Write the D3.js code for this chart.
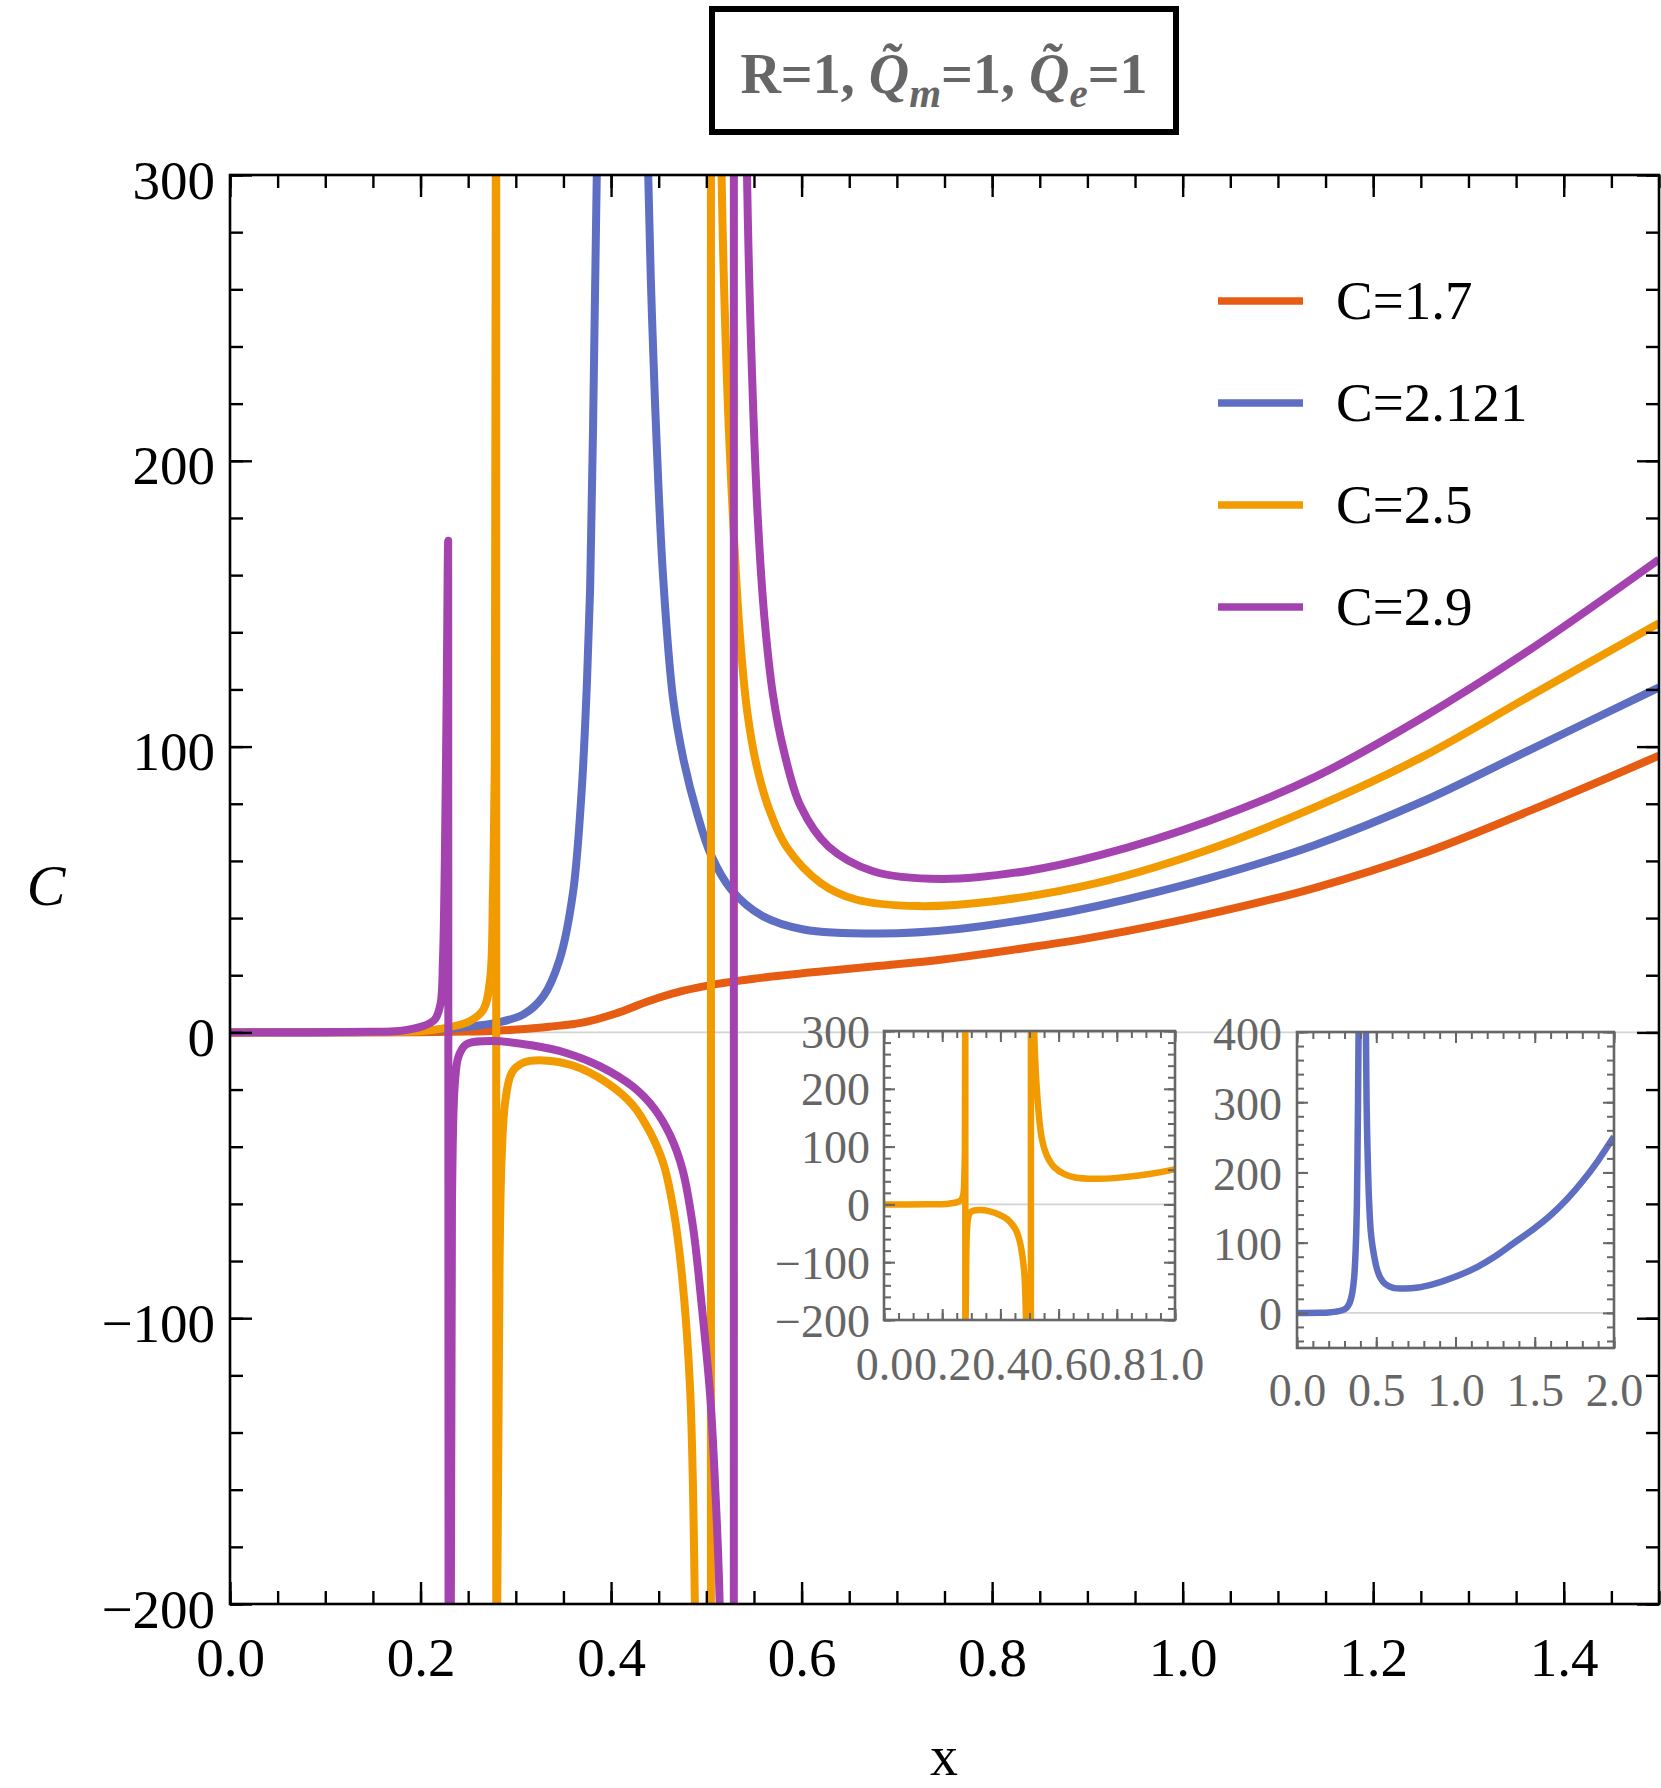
<!DOCTYPE html>
<html><head><meta charset="utf-8">
<script src="https://cdn.jsdelivr.net/npm/d3@7"></script>
<style>body{margin:0;background:#fff}</style>
</head><body>
<script>
// ---------------- data ----------------
const seriesNames  = ["C=1.7", "C=2.121", "C=2.5", "C=2.9"];
const seriesColors = ["#E65C13", "#5D6EC3", "#F29B00", "#A443AF"];

// C = 1.7
const c17 = [[0,0],[0.1,0],[0.2,0.05],[0.25,0.3],[0.28,0.6],[0.31,1.2],[0.335,2.0],[0.37,3.4],[0.405,6.6],
  [0.44,11.0],[0.475,14.5],[0.51,16.9],[0.55,18.8],[0.62,21.3],[0.68,23.2],[0.75,25.6],[0.84,29.8],
  [0.913,33.7],[1.026,41.3],[1.139,50.6],[1.251,62.5],[1.364,77.5],[1.5,96.8]];

// C = 2.121
const c2121 = [[0,0],[0.15,0.1],[0.2,0.5],[0.245,1.8],[0.28,3.4],[0.308,6.3],[0.329,12.7],[0.346,25.5],
  [0.36,48.8],[0.369,83.8],[0.374,117],[0.378,155],[0.381,210],[0.385,300],[0.392,500],[0.40,900],
  [0.41,1400],[0.42,900],[0.43,520],[0.439,300],[0.443,250],[0.448,205],[0.4545,160],[0.465,117],
  [0.476,95.5],[0.49,77],[0.505,62],[0.526,50],[0.559,40.7],[0.602,36],[0.682,34.6],[0.765,36.2],
  [0.85,40.3],[0.913,44.4],[1.026,53.8],[1.139,65.6],[1.251,80.7],[1.364,98.8],[1.5,120.7],
  [1.6,139],[1.7,161],[1.8,187],[1.9,217],[2.0,251]];

// C = 2.5
const c25 = [[0,0],[0.15,0.1],[0.2,0.4],[0.227,1.6],[0.252,4],[0.266,8],[0.273,18.5],[0.276,48.8],[0.278,95],
  [0.279,300],[0.2793,2000],[0.2797,-2000],[0.2805,-200],[0.283,-80],[0.285,-45],[0.289,-24],[0.296,-14],
  [0.308,-10.6],[0.329,-9.8],[0.36,-11.6],[0.395,-17.5],[0.423,-25.5],[0.441,-35],[0.455,-46],[0.466,-63],
  [0.475,-87],[0.483,-125],[0.488,-200],[0.497,-500],[0.5044,-3000],[0.5048,3000],[0.510,600],[0.516,300],
  [0.522,225],[0.528,180],[0.535,140],[0.543,112],[0.553,93],[0.566,78],[0.584,65],[0.62,52.3],[0.657,46.5],
  [0.722,44.2],[0.801,45.9],[0.913,52.5],[1.026,63.8],[1.139,78.8],[1.251,96.3],[1.364,117.6],[1.5,143.2]];

// C = 2.9
const c29 = [[0,0],[0.15,0.2],[0.178,0.5],[0.203,2.2],[0.215,4.5],[0.221,10],[0.2235,25],[0.2255,60],
  [0.2275,120],[0.229,172],[0.2300,-3000],[0.2310,-300],[0.233,-60],[0.236,-18],[0.240,-8.3],[0.248,-4.2],
  [0.276,-3.0],[0.318,-4.6],[0.353,-7.2],[0.388,-11.8],[0.423,-19],[0.445,-26.5],[0.462,-36],[0.475,-48],
  [0.486,-68],[0.495,-95],[0.504,-127],[0.509,-157],[0.514,-200],[0.521,-450],[0.5285,-3000],[0.5290,3000],
  [0.535,650],[0.5427,300],[0.548,230],[0.554,180],[0.561,145],[0.570,118],[0.581,99],[0.599,79.1],
  [0.628,65.1],[0.675,56.4],[0.747,53.7],[0.837,56.5],[0.913,62],[1.026,73.8],[1.139,89.4],[1.251,110],
  [1.364,133.8],[1.5,165.5]];

const seriesData = [c17, c2121, c25, c29];

// tick labels
const xTickValsMain = [0,0.2,0.4,0.6,0.8,1.0,1.2,1.4];
const xTickLabelsMain = ["0.0","0.2","0.4","0.6","0.8","1.0","1.2","1.4"];
const yTickValsMain = [-200,-100,0,100,200,300];
const yTickLabelsMain = ["\u2212200","\u2212100","0","100","200","300"];

const xTickValsIn1 = [0,0.2,0.4,0.6,0.8,1.0];
const xTickLabelsIn1 = ["0.0","0.2","0.4","0.6","0.8","1.0"];
const yTickValsIn1 = [-200,-100,0,100,200,300];
const yTickLabelsIn1 = ["\u2212200","\u2212100","0","100","200","300"];

const xTickValsIn2 = [0,0.5,1.0,1.5,2.0];
const xTickLabelsIn2 = ["0.0","0.5","1.0","1.5","2.0"];
const yTickValsIn2 = [0,100,200,300,400];
const yTickLabelsIn2 = ["0","100","200","300","400"];

// ---------------- drawing ----------------
const W = 1661, H = 1788;
const serif = "'Liberation Serif','Times New Roman',Times,serif";
const svg = d3.select("body").append("svg").attr("width", W).attr("height", H).style("display","block");
const defs = svg.append("defs");

function clipFor(id, xs, ys) {
  const [xa, xb] = xs.range(), [ya, yb] = ys.range();
  defs.append("clipPath").attr("id", id).append("rect")
    .attr("x", Math.min(xa,xb)).attr("y", Math.min(ya,yb))
    .attr("width", Math.abs(xb-xa)).attr("height", Math.abs(yb-ya));
  return `url(#${id})`;
}

function drawAxes(g, xs, ys, cfg) {
  const [x0, x1] = xs.range(), [y0, y1] = ys.range();
  const defsA = [
    {fn: d3.axisBottom, sc: xs, tr: `translate(0,${y0})`, minor: cfg.xMinor, major: cfg.xMajor, lab: cfg.xLabels},
    {fn: d3.axisTop,    sc: xs, tr: `translate(0,${y1})`, minor: cfg.xMinor, major: cfg.xMajor, lab: null},
    {fn: d3.axisLeft,   sc: ys, tr: `translate(${x0},0)`, minor: cfg.yMinor, major: cfg.yMajor, lab: cfg.yLabels},
    {fn: d3.axisRight,  sc: ys, tr: `translate(${x1},0)`, minor: cfg.yMinor, major: cfg.yMajor, lab: null}
  ];
  defsA.forEach((a, k) => {
    const gm = g.append("g").attr("transform", a.tr)
      .call(a.fn(a.sc).tickValues(a.minor).tickSize(-cfg.minorLen).tickFormat(""));
    gm.select(".domain").remove();
    gm.selectAll("line").attr("stroke", cfg.color).attr("stroke-width", cfg.tickW);
    const gM = g.append("g").attr("transform", a.tr)
      .call(a.fn(a.sc).tickValues(a.major).tickSize(-cfg.majorLen)
        .tickFormat(a.lab ? ((d, i) => a.lab[i]) : ""));
    gM.select(".domain").remove();
    gM.selectAll("line").attr("stroke", cfg.color).attr("stroke-width", cfg.tickW);
    gM.attr("font-family", serif).attr("font-size", cfg.fontSize);
    const t = gM.selectAll("text").attr("fill", cfg.textColor);
    if (a.lab && k === 0) t.attr("y", cfg.xLabelY).attr("dy", 0);
    if (a.lab && k === 2) t.attr("x", -cfg.yLabelGap).attr("dy", 0).attr("y", cfg.yLabelDy);
  });
  g.append("rect").attr("x", x0).attr("y", y1).attr("width", x1 - x0).attr("height", y0 - y1)
    .attr("fill", "none").attr("stroke", cfg.color).attr("stroke-width", cfg.frameW);
}

function drawCurves(g, xs, ys, list, clip, lw) {
  const line = d3.line().x(d => xs(d[0])).y(d => ys(d[1])).curve(d3.curveCatmullRom.alpha(0.5));
  const cg = g.append("g").attr("clip-path", clip);
  cg.append("line").attr("x1", xs.range()[0]).attr("x2", xs.range()[1])
    .attr("y1", ys(0)).attr("y2", ys(0)).attr("stroke", "#d4d4d4").attr("stroke-width", 1.6);
  list.forEach(s => {
    cg.append("path").datum(s.data).attr("d", line).attr("fill", "none")
      .attr("stroke", s.color).attr("stroke-width", lw)
      .attr("stroke-linejoin", "round").attr("stroke-linecap", "butt");
  });
}

// ---- main plot
const x = d3.scaleLinear().domain([0, 1.5]).range([230, 1659]);
const y = d3.scaleLinear().domain([-200, 300]).range([1604, 175]);
const mainG = svg.append("g");
drawCurves(mainG, x, y, seriesData.map((d, i) => ({data: d.filter(p => p[0] <= 1.5), color: seriesColors[i]})),
  clipFor("clipMain", x, y), 8);
drawAxes(mainG, x, y, {
  xMinor: d3.range(0, 1.5001, 0.05), xMajor: xTickValsMain, xLabels: xTickLabelsMain,
  yMinor: d3.range(-200, 300.1, 20), yMajor: yTickValsMain, yLabels: yTickLabelsMain,
  minorLen: 13, majorLen: 22, tickW: 2.4, frameW: 2.6, color: "#000", textColor: "#000",
  fontSize: 55, xLabelY: 72, yLabelGap: 15, yLabelDy: 23
});

// axis labels
svg.append("text").attr("x", 944).attr("y", 1775).attr("text-anchor", "middle")
  .attr("font-family", serif).attr("font-size", 56).text("x");
svg.append("text").attr("x", 46).attr("y", 905).attr("text-anchor", "middle")
  .attr("font-family", serif).attr("font-size", 58).attr("font-style", "italic").text("C");

// legend
const leg = svg.append("g");
seriesNames.forEach((n, i) => {
  const ly = 301 + i * 102;
  leg.append("line").attr("x1", 1218).attr("x2", 1303).attr("y1", ly).attr("y2", ly)
    .attr("stroke", seriesColors[i]).attr("stroke-width", 7.5);
  leg.append("text").attr("x", 1336).attr("y", ly + 18).attr("font-family", serif)
    .attr("font-size", 55).text(n);
});

// ---- inset 1 (C=2.5)
const xi1 = d3.scaleLinear().domain([0, 1]).range([884, 1175]);
const yi1 = d3.scaleLinear().domain([-200, 300]).range([1320, 1031]);
const in1 = svg.append("g");
drawCurves(in1, xi1, yi1, [{data: c25, color: seriesColors[2]}], clipFor("clipIn1", xi1, yi1), 6.5);
drawAxes(in1, xi1, yi1, {
  xMinor: d3.range(0, 1.0001, 0.05), xMajor: xTickValsIn1, xLabels: xTickLabelsIn1,
  yMinor: d3.range(-200, 300.1, 20), yMajor: yTickValsIn1, yLabels: yTickLabelsIn1,
  minorLen: 7, majorLen: 11, tickW: 2, frameW: 2.6, color: "#666", textColor: "#666",
  fontSize: 46, xLabelY: 60, yLabelGap: 14, yLabelDy: 16
});

// ---- inset 2 (C=2.121)
const xi2 = d3.scaleLinear().domain([0, 2]).range([1297, 1614]);
const yi2 = d3.scaleLinear().domain([-50, 400]).range([1348, 1032]);
const in2 = svg.append("g");
drawCurves(in2, xi2, yi2, [{data: c2121, color: seriesColors[1]}], clipFor("clipIn2", xi2, yi2), 6.5);
drawAxes(in2, xi2, yi2, {
  xMinor: d3.range(0, 2.0001, 0.1), xMajor: xTickValsIn2, xLabels: xTickLabelsIn2,
  yMinor: d3.range(-40, 400.1, 20), yMajor: yTickValsIn2, yLabels: yTickLabelsIn2,
  minorLen: 7, majorLen: 11, tickW: 2, frameW: 2.6, color: "#666", textColor: "#666",
  fontSize: 46, xLabelY: 58, yLabelGap: 15, yLabelDy: 17
});

// ---- title box
svg.append("rect").attr("x", 712).attr("y", 9).attr("width", 464).attr("height", 123)
  .attr("fill", "#fff").attr("stroke", "#000").attr("stroke-width", 6);
const tt = svg.append("text").attr("x", 944).attr("y", 93).attr("text-anchor", "middle")
  .attr("font-family", serif).attr("font-size", 56).attr("font-weight", "bold").attr("fill", "#666");
tt.append("tspan").text("R=1, ");
tt.append("tspan").attr("font-style", "italic").text("Q\u0303");
tt.append("tspan").attr("font-style", "italic").attr("font-size", 41).attr("dy", 14).text("m");
tt.append("tspan").attr("dy", -14).text("=1, ");
tt.append("tspan").attr("font-style", "italic").text("Q\u0303");
tt.append("tspan").attr("font-style", "italic").attr("font-size", 41).attr("dy", 14).text("e");
tt.append("tspan").attr("dy", -14).text("=1");
</script>
</body></html>
